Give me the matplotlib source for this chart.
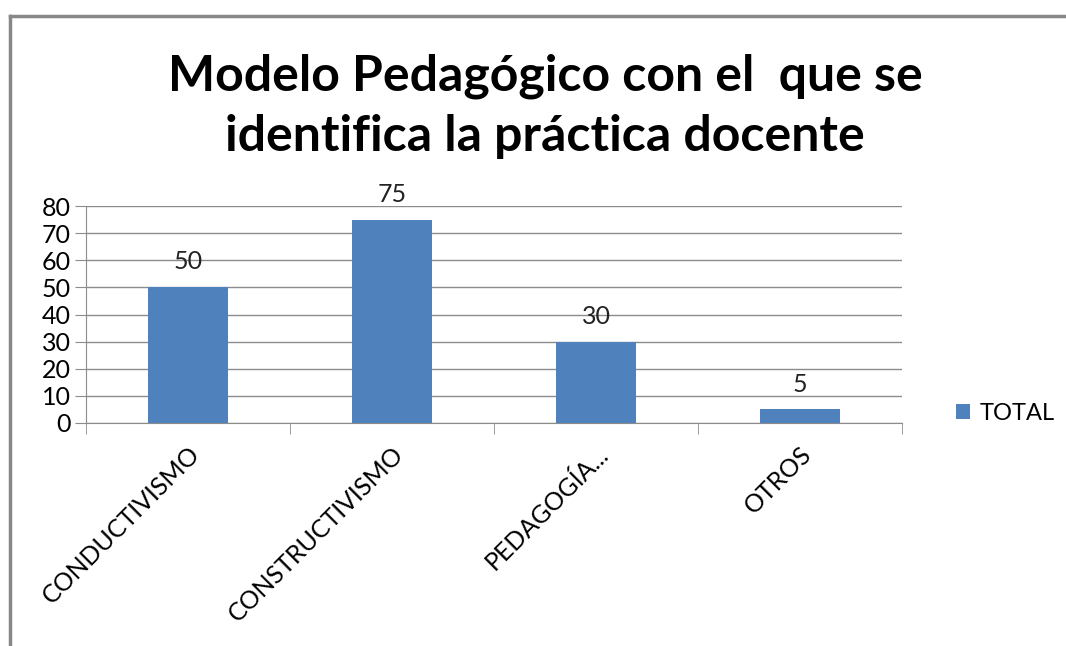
import matplotlib
matplotlib.use('Agg')
import matplotlib.pyplot as plt
from matplotlib.lines import Line2D
import numpy as np

categorias = ['CONDUCTIVISMO', 'CONSTRUCTIVISMO', 'PEDAGOGÍA...', 'OTROS']
valores = [50, 75, 30, 5]
serie = 'TOTAL'
titulo = 'Modelo Pedagógico con el  que se\nidentifica la práctica docente'
yticks = [0, 10, 20, 30, 40, 50, 60, 70, 80]

plt.rcParams['font.family'] = ['Lato', 'DejaVu Sans']

fig = plt.figure(figsize=(10.66, 6.46), dpi=100)
ax = fig.add_axes([86/1066, 1-423/646, (902-86)/1066, (423-206)/646])

x = np.arange(len(categorias))
bars = ax.bar(x, valores, width=0.39, color='#4F81BD', label=serie, zorder=3)

# etiquetas de datos
for xi, v in zip(x, valores):
    ax.annotate(str(v), (xi, v), xytext=(0, 10), textcoords='offset points',
                ha='center', va='bottom', fontsize=18, color='#222222')

ax.set_xlim(-0.5, len(categorias) - 0.5)
ax.set_ylim(0, 80)
ax.set_yticks(yticks)
ax.set_yticklabels([str(t) for t in yticks], fontsize=18)
ax.yaxis.grid(True, color='#8c8c8c', linewidth=1, zorder=0)

ax.set_xticks(x)
ax.set_xticklabels(categorias, rotation=45, ha='right', rotation_mode='anchor',
                   fontsize=18)
ax.set_xticks(np.arange(-0.5, len(categorias)), minor=True)
ax.tick_params(axis='x', which='major', length=0, pad=14)
ax.tick_params(axis='x', which='minor', length=8, color='#8c8c8c')
ax.tick_params(axis='y', length=8, color='#8c8c8c', pad=3)

for s in ['top', 'right']:
    ax.spines[s].set_visible(False)
ax.spines['left'].set_color('#8c8c8c')
ax.spines['bottom'].set_color('#8c8c8c')

fig.text(545/1066, 1-106/646, titulo, ha='center', va='center',
         fontsize=36, fontweight='bold', linespacing=1.4)

fig.legend(loc='center left', bbox_to_anchor=(935/1066, 1-413/646), frameon=False,
           fontsize=17, handlelength=0.6, handleheight=0.6, handletextpad=0.4)

# borde del gráfico
fig.add_artist(Line2D([10/1066, 1], [1-16/646, 1-16/646], color='#888888', lw=2.5))
fig.add_artist(Line2D([10/1066, 10/1066], [0, 1-16/646], color='#888888', lw=2.5))

fig.savefig('out.png', dpi=100, facecolor='white')
